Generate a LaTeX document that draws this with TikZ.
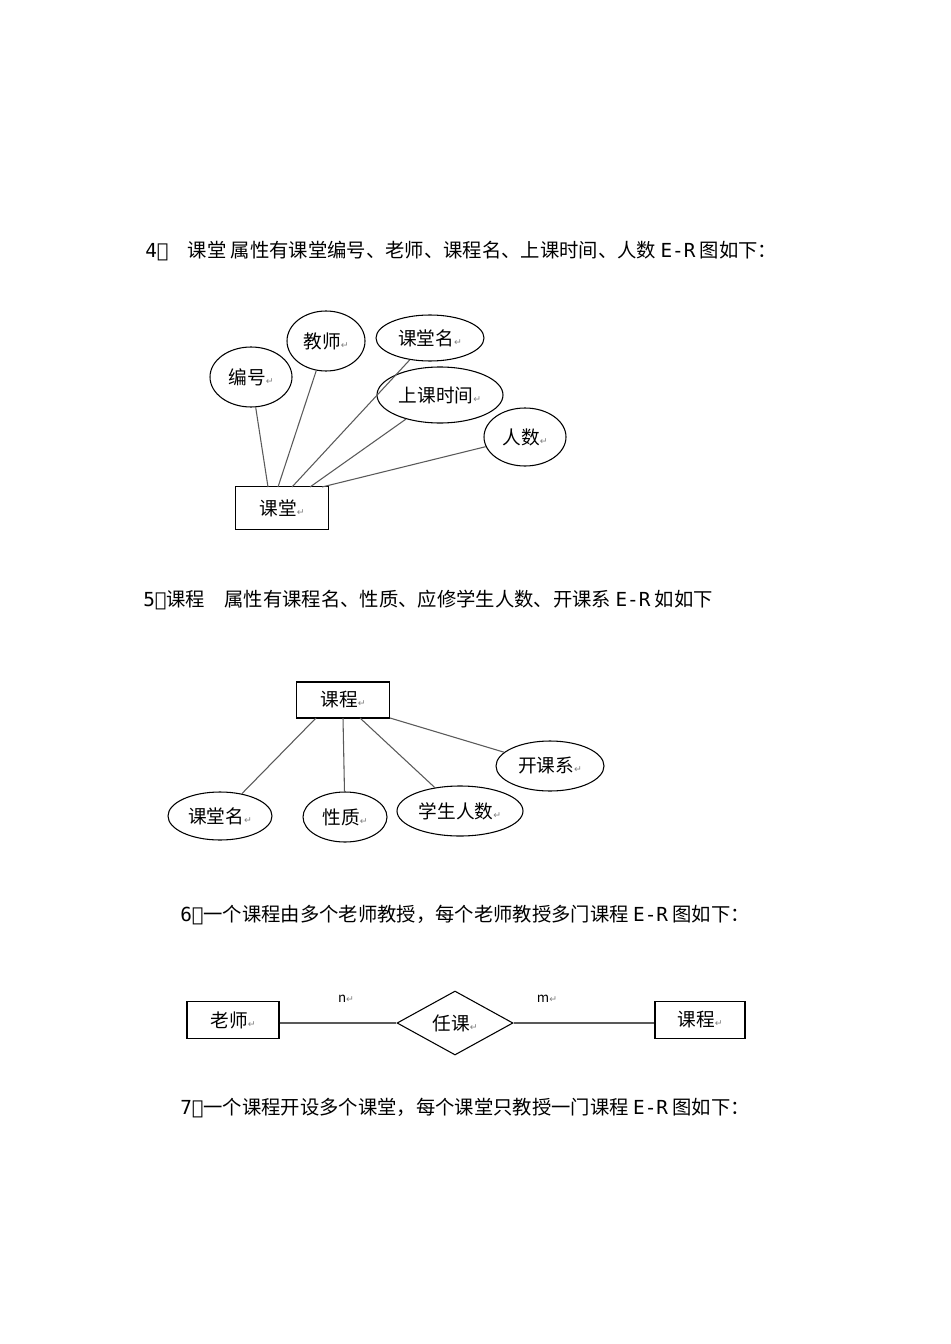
\documentclass[tikz,border=0pt]{standalone}
\usepackage{fontspec}
\setmainfont{Noto Sans CJK SC}
\newfontfamily\djvfont{DejaVu Sans}
\newfontfamily\monof{DejaVu Sans Mono}
\usetikzlibrary{shapes.geometric}
\newcommand{\pmk}{{\color{gray}\djvfont\fontsize{7}{7}\selectfont ↵}}
\begin{document}
\begin{tikzpicture}[x=0.75pt,y=-0.75pt,
  lbl/.style={font=\fontsize{14}{14}\selectfont},
  head/.style={anchor=west,font=\fontsize{14.5}{15}\selectfont,inner sep=0},
  ent/.style={draw,thick,minimum width=#1*0.75pt,minimum height=40*0.75pt,lbl,inner sep=0},
  att/.style={draw,thick,ellipse,inner sep=0,lbl},
  ln/.style={draw,gray!70!black,thick}]
\useasboundingbox (0,0) rectangle (950,1344);
\node[head] (h4) at (145,251) {{\monof 4）}\quad 课堂 属性有课堂编号、老师、课程名、上课时间、人数 {\monof E-R} 图如下：};
\node[ent=93,minimum height=43*0.75pt] (kt) at (282,508) {课堂\pmk};
\node[att,minimum width=82*0.75pt,minimum height=60*0.75pt] (bh) at (251,377) {编号\pmk};
\node[att,minimum width=78*0.75pt,minimum height=60*0.75pt] (js) at (326,341) {教师\pmk};
\node[att,minimum width=108*0.75pt,minimum height=46*0.75pt] (ktm) at (430,338) {课堂名\pmk};
\node[att,minimum width=126*0.75pt,minimum height=56*0.75pt] (sksj) at (440,395) {上课时间\pmk};
\node[att,minimum width=82*0.75pt,minimum height=58*0.75pt] (rs) at (525,437) {人数\pmk};
\coordinate (k1) at (268,487); \coordinate (k2) at (278,487); \coordinate (k3) at (292,487);
\coordinate (k4) at (310,487); \coordinate (k5) at (322,487);
\draw[ln] (k1) -- (bh); \draw[ln] (k2) -- (js); \draw[ln] (k3) -- (ktm);
\draw[ln] (k4) -- (sksj); \draw[ln] (k5) -- (rs);

\node[head] (h5) at (143,600) {{\monof 5）}课程\quad 属性有课程名、性质、应修学生人数、开课系 {\monof E-R} 如如下};
\node[ent=93,minimum height=36*0.75pt] (kc) at (343,700) {课程\pmk};
\node[att,minimum width=104*0.75pt,minimum height=48*0.75pt] (a1) at (220,816) {课堂名\pmk};
\node[att,minimum width=84*0.75pt,minimum height=50*0.75pt] (a2) at (345,817) {性质\pmk};
\node[att,minimum width=126*0.75pt,minimum height=50*0.75pt] (a3) at (460,811) {学生人数\pmk};
\node[att,minimum width=108*0.75pt,minimum height=50*0.75pt] (a4) at (550,766) {开课系\pmk};
\coordinate (c1) at (316,718); \coordinate (c2) at (343,718);
\coordinate (c3) at (360,718); \coordinate (c4) at (390,718);
\draw[ln] (c1) -- (a1); \draw[ln] (c2) -- (a2); \draw[ln] (c3) -- (a3); \draw[ln] (c4) -- (a4);

\node[head] (h6) at (180,915) {{\monof 6）}一个课程由多个老师教授，每个老师教授多门课程 {\monof E-R} 图如下：};
\node[ent=92,minimum height=37*0.75pt] (ls) at (233,1020) {老师\pmk};
\node[draw,thick,diamond,aspect=1.8,minimum width=116*0.75pt,minimum height=64*0.75pt,inner sep=0,lbl] (rk) at (455,1023) {任课\pmk};
\node[ent=90,minimum height=37*0.75pt] (kc2) at (700,1020) {课程\pmk};
\draw[ln] (ls.east |- rk) -- (rk.west);
\draw[ln] (rk.east) -- (kc2.west |- rk);
\node[font=\fontsize{10}{10}\selectfont\rmfamily] (n) at (346,999) {n\pmk};
\node[font=\fontsize{10}{10}\selectfont\rmfamily] (m) at (547,999) {m\pmk};

\node[head] (h7) at (180,1108) {{\monof 7）}一个课程开设多个课堂，每个课堂只教授一门课程 {\monof E-R} 图如下：};
\end{tikzpicture}
\end{document}
